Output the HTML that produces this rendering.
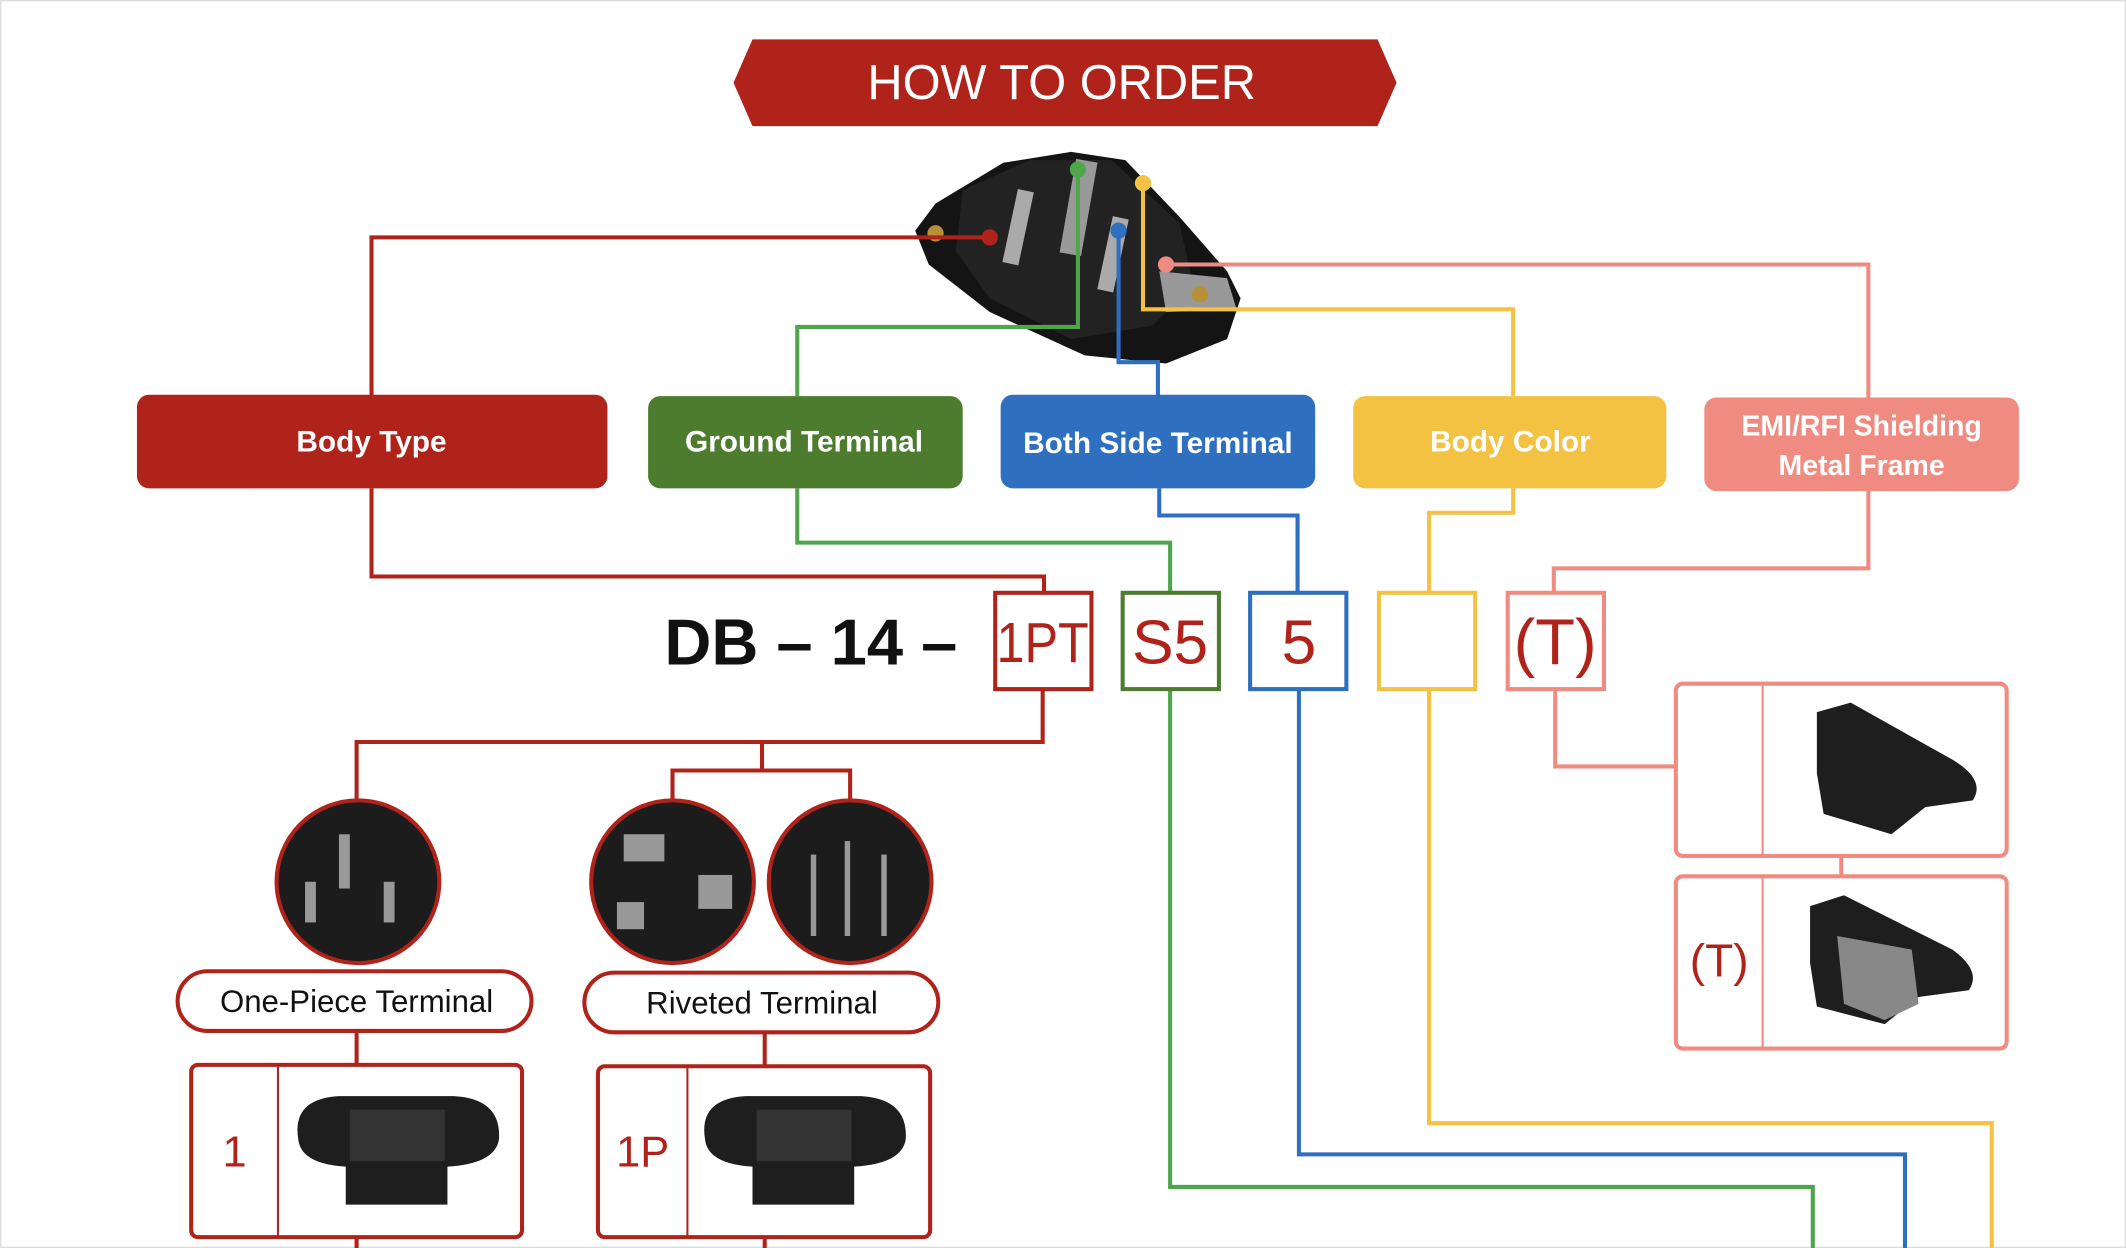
<!DOCTYPE html>
<html><head><meta charset="utf-8"><style>
html,body{margin:0;padding:0;background:#fff;}
svg{display:block;}
text{font-family:"Liberation Sans",sans-serif;}
</style></head><body>
<svg width="2126" height="1248" viewBox="0 0 1568 920" preserveAspectRatio="none" xmlns="http://www.w3.org/2000/svg">
<rect x="0.5" y="0.5" width="1567" height="919" fill="#fff" stroke="#ddd" stroke-width="1"/>
<!-- banner -->
<polygon points="555,29 1016,29 1030,61 1016,93 555,93 541,61" fill="#b0231a"/>
<text x="783" y="73" font-size="36" fill="#fff" text-anchor="middle">HOW TO ORDER</text>
<!-- main product -->
<g>
<polygon points="690,150 740,120 790,112 830,118 870,160 905,200 915,220 905,250 860,268 800,262 730,230 685,195 675,170" fill="#141414"/>
<polygon points="710,140 760,118 820,118 870,165 880,210 850,240 790,250 730,220 705,185" fill="#222"/>
<rect x="745" y="140" width="12" height="55" fill="#aaa" transform="rotate(12 751 167)"/>
<rect x="788" y="118" width="16" height="70" fill="#999" transform="rotate(10 796 150)"/>
<rect x="815" y="160" width="12" height="55" fill="#aaa" transform="rotate(12 821 187)"/>
<polygon points="855,200 905,205 912,228 860,230" fill="#999"/>
<circle cx="885" cy="217" r="6" fill="#b89038"/>
<circle cx="690" cy="172" r="6" fill="#b89038"/>
</g>
<g fill="none" stroke-width="3">
<!-- red -->
<polyline points="730,175 274,175 274,292" stroke="#b0231a"/>
<polyline points="274,360 274,425 770,425 770,438" stroke="#b0231a"/>
<!-- green -->
<polyline points="795,125 795,241 588,241 588,292" stroke="#4fa64a"/>
<polyline points="588,360 588,400 863,400 863,438" stroke="#4fa64a"/>
<!-- blue -->
<polyline points="825,170 825,267 854,267 854,292" stroke="#2f6fbf"/>
<polyline points="855,360 855,380 957,380 957,438" stroke="#2f6fbf"/>
<!-- yellow -->
<polyline points="843,135 843,228 1116,228 1116,292" stroke="#f4c242"/>
<polyline points="1116,360 1116,378 1054,378 1054,438" stroke="#f4c242"/>
<!-- pink -->
<polyline points="860,195 1378,195 1378,293" stroke="#ef8b80"/>
<polyline points="1378,362 1378,419 1146,419 1146,438" stroke="#ef8b80"/>
<!-- bottom long lines -->
<polyline points="863,508 863,875 1337,875 1337,920" stroke="#4fa64a"/>
<polyline points="958,508 958,851 1405,851 1405,920" stroke="#2f6fbf"/>
<polyline points="1054,508 1054,828 1469,828 1469,920" stroke="#f4c242"/>
<polyline points="1147,508 1147,565 1236,565" stroke="#ef8b80"/>
<line x1="1358" y1="631" x2="1358" y2="646" stroke="#ef8b80"/>
<!-- red tree -->
<polyline points="769,508 769,547 263,547 263,592" stroke="#b0231a"/>
<polyline points="562,547 562,568" stroke="#b0231a"/>
<polyline points="496,590 496,568 627,568 627,590" stroke="#b0231a"/>
<line x1="263" y1="760" x2="263" y2="785" stroke="#b0231a"/>
<line x1="564" y1="761" x2="564" y2="786" stroke="#b0231a"/>
<line x1="263" y1="912" x2="263" y2="920" stroke="#b0231a"/>
<line x1="564" y1="912" x2="564" y2="920" stroke="#b0231a"/>
</g>
<circle cx="730" cy="175" r="6" fill="#b0231a"/>
<circle cx="795" cy="125" r="6" fill="#4fa64a"/>
<circle cx="825" cy="170" r="6" fill="#2f6fbf"/>
<circle cx="843" cy="135" r="6" fill="#f4c242"/>
<circle cx="860" cy="195" r="6" fill="#ef8b80"/>
<!-- category boxes -->
<rect x="101" y="291" width="347" height="69" rx="9" fill="#b0231a"/>
<text x="274" y="333" font-size="22" font-weight="bold" fill="#fff" text-anchor="middle">Body Type</text>
<rect x="478" y="292" width="232" height="68" rx="9" fill="#4e7c2f"/>
<text x="593" y="333" font-size="22" font-weight="bold" fill="#fff" text-anchor="middle">Ground Terminal</text>
<rect x="738" y="291" width="232" height="69" rx="9" fill="#2f6fbf"/>
<text x="854" y="334" font-size="22" font-weight="bold" fill="#fff" text-anchor="middle">Both Side Terminal</text>
<rect x="998" y="292" width="231" height="68" rx="9" fill="#f4c242"/>
<text x="1114" y="333" font-size="22" font-weight="bold" fill="#fff" text-anchor="middle">Body Color</text>
<rect x="1257" y="293" width="232" height="69" rx="9" fill="#ef8b80"/>
<text x="1373" y="321" font-size="21" font-weight="bold" fill="#fff" text-anchor="middle">EMI/RFI Shielding</text>
<text x="1373" y="350" font-size="21" font-weight="bold" fill="#fff" text-anchor="middle">Metal Frame</text>
<!-- code -->
<text x="490" y="490" font-size="48" font-weight="bold" fill="#111">DB – 14 –</text>
<g fill="none" stroke-width="3">
<rect x="734" y="437" width="71" height="71" stroke="#b0231a"/>
<rect x="828" y="437" width="71" height="71" stroke="#4e7c2f"/>
<rect x="922" y="437" width="71" height="71" stroke="#2f6fbf"/>
<rect x="1017" y="437" width="71" height="71" stroke="#f4c242"/>
<rect x="1112" y="437" width="71" height="71" stroke="#ef8b80"/>
</g>
<text x="769" y="488" font-size="42" fill="#b0231a" text-anchor="middle" textLength="68" lengthAdjust="spacingAndGlyphs">1PT</text>
<text x="863" y="489" font-size="46" fill="#b0231a" text-anchor="middle">S5</text>
<text x="958" y="489" font-size="46" fill="#b0231a" text-anchor="middle">5</text>
<text x="1147" y="490" font-size="48" fill="#b0231a" text-anchor="middle">(T)</text>
<!-- circles -->
<g stroke="#b0231a" stroke-width="3">
<circle cx="264" cy="650" r="60" fill="#1c1c1c"/>
<circle cx="496" cy="650" r="60" fill="#1c1c1c"/>
<circle cx="627" cy="650" r="60" fill="#1c1c1c"/>
</g>
<g fill="#999">
<rect x="250" y="615" width="8" height="40"/><rect x="225" y="650" width="8" height="30"/><rect x="283" y="650" width="8" height="30"/>
<rect x="460" y="615" width="30" height="20"/><rect x="515" y="645" width="25" height="25"/><rect x="455" y="665" width="20" height="20"/>
<rect x="598" y="630" width="4" height="60"/><rect x="623" y="620" width="4" height="70"/><rect x="650" y="630" width="4" height="60"/>
</g>
<!-- pills -->
<g fill="#fff" stroke="#b0231a" stroke-width="3">
<rect x="131" y="716" width="261" height="44" rx="22"/>
<rect x="431" y="717" width="261" height="44" rx="22"/>
</g>
<text x="263" y="746" font-size="23" fill="#111" text-anchor="middle">One-Piece Terminal</text>
<text x="562" y="747" font-size="23" fill="#111" text-anchor="middle">Riveted Terminal</text>
<!-- bottom boxes -->
<g fill="none" stroke="#b0231a" stroke-width="3">
<rect x="141" y="785" width="244" height="127" rx="5"/>
<line x1="205" y1="785" x2="205" y2="912" stroke-width="1.5"/>
<rect x="441" y="786" width="245" height="126" rx="5"/>
<line x1="507" y1="786" x2="507" y2="912" stroke-width="1.5"/>
</g>
<text x="173" y="860" font-size="32" fill="#b0231a" text-anchor="middle">1</text>
<text x="474" y="860" font-size="32" fill="#b0231a" text-anchor="middle">1P</text>
<g fill="#1e1e1e">
<path d="M220,840 Q215,810 250,808 L335,808 Q370,810 368,840 Q365,858 330,860 L330,888 L255,888 L255,860 Q222,858 220,840Z"/>
<path d="M520,840 Q515,810 550,808 L635,808 Q670,810 668,840 Q665,858 630,860 L630,888 L555,888 L555,860 Q522,858 520,840Z"/>
</g>
<rect x="258" y="818" width="70" height="38" fill="#333"/>
<rect x="558" y="818" width="70" height="38" fill="#333"/>
<!-- pink boxes -->
<g fill="none" stroke="#ef8b80" stroke-width="3">
<rect x="1236" y="504" width="244" height="127" rx="5"/>
<line x1="1300" y1="504" x2="1300" y2="631" stroke-width="1.5"/>
<rect x="1236" y="646" width="244" height="127" rx="5"/>
<line x1="1300" y1="646" x2="1300" y2="773" stroke-width="1.5"/>
</g>
<text x="1268" y="720" font-size="34" fill="#b0231a" text-anchor="middle">(T)</text>
<g fill="#1e1e1e">
<path d="M1340,525 L1365,518 L1440,560 Q1465,575 1455,590 L1420,595 L1395,615 L1345,600 L1340,570Z"/>
<path d="M1335,668 L1360,660 L1440,700 Q1462,716 1452,730 L1415,735 L1390,755 L1340,742 L1335,710Z"/>
</g>
<path d="M1355,690 L1410,700 L1415,740 L1390,752 L1360,740Z" fill="#888"/>
</svg>
</body></html>
